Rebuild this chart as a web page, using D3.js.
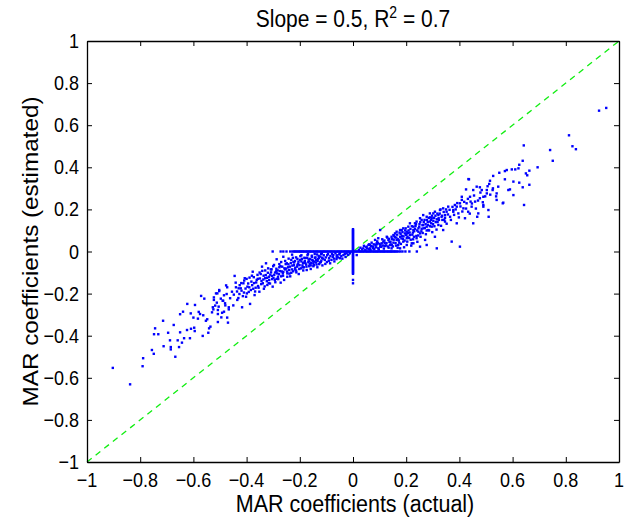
<!DOCTYPE html>
<html>
<head>
<meta charset="utf-8">
<script src="https://cdn.jsdelivr.net/npm/d3@7"></script>
<style>
    body { margin: 0; background: #fff; }
    svg { font-family: "Liberation Sans", Arial, sans-serif; }
</style>
</head>
<body>
<div id="main"></div>
<script>
const ctx = {
    WIDTH: 624,
    HEIGHT: 518,
    left: 87, right: 619, top: 41, bottom: 462,
    STRETCH: 1.13, // the figure was saved a little taller than wide
};

const xTicks = [-1, -0.8, -0.6, -0.4, -0.2, 0, 0.2, 0.4, 0.6, 0.8, 1];
const yTicks = [-1, -0.8, -0.6, -0.4, -0.2, 0, 0.2, 0.4, 0.6, 0.8, 1];

// [actual, estimated]
const leftTail = [
    [-0.903, -0.553], [-0.838, -0.631], [-0.791, -0.545], [-0.789, -0.507], [-0.756, -0.468],
    [-0.749, -0.486], [-0.748, -0.393], [-0.744, -0.365], [-0.732, -0.393], [-0.714, -0.329],
    [-0.712, -0.450], [-0.695, -0.386], [-0.688, -0.422], [-0.685, -0.454], [-0.685, -0.465],
    [-0.674, -0.349], [-0.668, -0.500], [-0.659, -0.422], [-0.654, -0.454], [-0.650, -0.384],
    [-0.650, -0.298], [-0.643, -0.433], [-0.639, -0.286], [-0.635, -0.412], [-0.623, -0.249],
    [-0.624, -0.373], [-0.613, -0.412], [-0.610, -0.294], [-0.609, -0.367], [-0.600, -0.314],
    [-0.597, -0.362], [-0.594, -0.254], [-0.595, -0.378], [-0.583, -0.319], [-0.580, -0.287],
    [-0.575, -0.297], [-0.571, -0.211], [-0.565, -0.401], [-0.563, -0.303], [-0.559, -0.224],
    [-0.553, -0.329], [-0.548, -0.322], [-0.544, -0.386], [-0.541, -0.365], [-0.536, -0.357],
    [-0.530, -0.289], [-0.525, -0.275], [-0.523, -0.218], [-0.518, -0.257], [-0.512, -0.243],
    [-0.510, -0.199], [-0.508, -0.297], [-0.508, -0.335], [-0.505, -0.262], [-0.503, -0.188],
    [-0.497, -0.224], [-0.492, -0.291], [-0.488, -0.234], [-0.485, -0.286], [-0.481, -0.246],
    [-0.477, -0.161], [-0.475, -0.202], [-0.473, -0.314], [-0.470, -0.338], [-0.467, -0.265]
];

const leftCluster = [
    [-0.527, -0.265], [-0.523, -0.230], [-0.515, -0.199], [-0.508, -0.278], [-0.503, -0.183],
    [-0.495, -0.313], [-0.490, -0.234], [-0.485, -0.208], [-0.480, -0.256], [-0.473, -0.170],
    [-0.467, -0.275], [-0.462, -0.222], [-0.455, -0.191], [-0.450, -0.256], [-0.445, -0.116],
    [-0.440, -0.170], [-0.435, -0.230], [-0.427, -0.202], [-0.422, -0.175], [-0.417, -0.265],
    [-0.412, -0.151], [-0.407, -0.127], [-0.402, -0.215], [-0.397, -0.167], [-0.392, -0.192],
    [-0.387, -0.249], [-0.382, -0.143], [-0.377, -0.096], [-0.375, -0.177], [-0.370, -0.207],
    [-0.362, -0.135], [-0.357, -0.164], [-0.352, -0.191], [-0.347, -0.107], [-0.342, -0.072],
    [-0.339, -0.151], [-0.335, -0.177], [-0.330, -0.127], [-0.327, -0.056], [-0.322, -0.159],
    [-0.320, -0.101], [-0.315, -0.135], [-0.309, -0.085], [-0.305, -0.116], [-0.302, -0.167],
    [-0.297, -0.064], [-0.294, -0.135], [-0.289, -0.094], [-0.287, -0.037], [-0.282, -0.120],
    [-0.277, -0.075], [-0.272, -0.148], [-0.270, -0.050], [-0.264, -0.104], [-0.262, -0.025],
    [-0.255, -0.085], [-0.249, -0.056], [-0.247, -0.120], [-0.242, -0.034], [-0.237, -0.072],
    [-0.232, -0.101], [-0.229, -0.015], [-0.224, -0.050], [-0.219, -0.085], [-0.214, -0.028],
    [-0.209, -0.063], [-0.204, -0.107], [-0.199, -0.040], [-0.194, -0.018], [-0.189, -0.075],
    [-0.184, -0.053], [-0.179, -0.031], [-0.174, -0.088], [-0.169, -0.012], [-0.164, -0.047],
    [-0.159, -0.066], [-0.154, -0.025], [-0.149, -0.056], [-0.144, -0.012], [-0.139, -0.040],
    [-0.134, -0.075], [-0.129, -0.021], [-0.121, -0.050], [-0.117, -0.009], [-0.112, -0.034],
    [-0.104, -0.059], [-0.097, -0.018], [-0.091, -0.044], [-0.086, -0.056], [-0.079, -0.012],
    [-0.071, -0.034], [-0.061, -0.018], [-0.049, -0.009], [-0.074, -0.017], [-0.061, -0.025],
    [-0.049, -0.032], [-0.036, -0.017], [-0.024, -0.009], [0.014, -0.017]
];

const leftDense = [
    [-0.448, -0.205], [-0.441, -0.148], [-0.436, -0.190], [-0.431, -0.221], [-0.426, -0.160],
    [-0.419, -0.186], [-0.414, -0.212], [-0.409, -0.138], [-0.404, -0.176], [-0.399, -0.199],
    [-0.394, -0.152], [-0.389, -0.124], [-0.384, -0.183], [-0.379, -0.160], [-0.373, -0.122],
    [-0.368, -0.190], [-0.364, -0.147], [-0.359, -0.111], [-0.355, -0.172], [-0.350, -0.128],
    [-0.345, -0.155], [-0.341, -0.092], [-0.337, -0.133], [-0.332, -0.166], [-0.328, -0.112],
    [-0.324, -0.141], [-0.319, -0.080], [-0.316, -0.120], [-0.312, -0.152], [-0.308, -0.099],
    [-0.304, -0.131], [-0.300, -0.070], [-0.296, -0.111], [-0.292, -0.146], [-0.288, -0.082],
    [-0.285, -0.104], [-0.281, -0.131], [-0.277, -0.060], [-0.274, -0.093], [-0.270, -0.118],
    [-0.266, -0.072], [-0.262, -0.097], [-0.259, -0.135], [-0.255, -0.045], [-0.251, -0.081],
    [-0.247, -0.104], [-0.243, -0.061], [-0.240, -0.088], [-0.236, -0.118], [-0.232, -0.040],
    [-0.228, -0.067], [-0.225, -0.094], [-0.221, -0.052], [-0.217, -0.077], [-0.213, -0.099],
    [-0.209, -0.035], [-0.206, -0.058], [-0.202, -0.083], [-0.198, -0.022], [-0.194, -0.047],
    [-0.190, -0.066], [-0.187, -0.090], [-0.183, -0.030], [-0.179, -0.055], [-0.175, -0.072],
    [-0.171, -0.017], [-0.167, -0.038], [-0.163, -0.060], [-0.159, -0.083], [-0.155, -0.020],
    [-0.151, -0.044], [-0.147, -0.065], [-0.143, -0.030], [-0.139, -0.052], [-0.135, -0.014],
    [-0.131, -0.036], [-0.127, -0.060], [-0.123, -0.024], [-0.119, -0.043], [-0.115, -0.066],
    [-0.110, -0.018], [-0.106, -0.040], [-0.102, -0.028], [-0.098, -0.050], [-0.094, -0.012],
    [-0.090, -0.032], [-0.085, -0.022], [-0.081, -0.040], [-0.076, -0.026], [-0.070, -0.047],
    [-0.066, -0.008], [-0.062, -0.036], [-0.056, -0.028], [-0.052, -0.014], [-0.044, -0.022],
    [-0.040, -0.034], [-0.031, -0.012], [-0.028, -0.026], [-0.018, -0.016], [-0.012, -0.008],
    [-0.430, -0.175], [-0.420, -0.150], [-0.410, -0.195], [-0.400, -0.130], [-0.390, -0.170],
    [-0.380, -0.115], [-0.372, -0.150], [-0.366, -0.172], [-0.358, -0.130], [-0.351, -0.100],
    [-0.344, -0.140], [-0.336, -0.115], [-0.330, -0.090], [-0.323, -0.125], [-0.317, -0.150],
    [-0.311, -0.110], [-0.306, -0.085], [-0.299, -0.125], [-0.293, -0.100], [-0.287, -0.130],
    [-0.283, -0.090], [-0.278, -0.108], [-0.273, -0.070], [-0.268, -0.095], [-0.263, -0.115],
    [-0.258, -0.080], [-0.253, -0.060], [-0.248, -0.095], [-0.244, -0.075], [-0.239, -0.105],
    [-0.234, -0.055], [-0.230, -0.085], [-0.226, -0.030], [-0.222, -0.065], [-0.218, -0.045],
    [-0.214, -0.090], [-0.210, -0.072], [-0.205, -0.048], [-0.201, -0.065], [-0.196, -0.080],
    [-0.192, -0.035], [-0.188, -0.055], [-0.185, -0.075], [-0.181, -0.045], [-0.176, -0.062],
    [-0.172, -0.030], [-0.168, -0.050], [-0.165, -0.070], [-0.161, -0.035], [-0.157, -0.055],
    [-0.153, -0.040], [-0.149, -0.070], [-0.145, -0.048], [-0.141, -0.028], [-0.137, -0.062],
    [-0.133, -0.045], [-0.128, -0.030], [-0.124, -0.052], [-0.120, -0.012], [-0.116, -0.030]
];

const rightCluster = [
    [0.064, 0.015], [0.076, 0.023], [0.089, 0.034], [0.095, 0.015], [0.061, 0.034],
    [0.039, 0.015], [0.051, 0.023], [0.064, 0.031], [0.076, 0.015], [0.089, 0.039],
    [0.102, 0.023], [0.114, 0.047], [0.120, 0.026], [0.133, 0.055], [0.139, 0.031],
    [0.145, 0.070], [0.152, 0.042], [0.158, 0.086], [0.164, 0.055], [0.170, 0.031],
    [0.177, 0.070], [0.183, 0.102], [0.189, 0.047], [0.195, 0.086], [0.202, 0.063],
    [0.208, 0.118], [0.214, 0.078], [0.221, 0.039], [0.227, 0.102], [0.233, 0.134],
    [0.239, 0.063], [0.246, 0.110], [0.252, 0.086], [0.258, 0.150], [0.264, 0.126],
    [0.271, 0.055], [0.277, 0.165], [0.283, 0.102], [0.289, 0.142], [0.296, 0.118],
    [0.302, 0.181], [0.308, 0.070], [0.315, 0.153], [0.321, 0.126], [0.327, 0.197],
    [0.333, 0.165], [0.339, 0.102], [0.346, 0.142], [0.352, 0.189], [0.358, 0.213],
    [0.365, 0.165], [0.371, 0.047], [0.377, 0.189], [0.383, 0.221], [0.390, 0.134],
    [0.396, 0.181], [0.402, 0.023], [0.409, 0.245], [0.415, 0.205], [0.421, 0.158],
    [0.427, 0.229], [0.433, 0.189], [0.440, 0.260], [0.446, 0.213], [0.452, 0.134],
    [0.459, 0.237], [0.465, 0.308], [0.471, 0.181], [0.477, 0.253], [0.484, 0.292],
    [0.490, 0.221], [0.503, 0.276], [0.509, 0.197], [0.083, 0.055], [0.095, 0.063],
    [0.108, 0.039], [0.127, 0.070], [0.152, 0.078], [0.164, 0.094], [0.177, 0.102],
    [0.189, 0.110], [0.202, 0.094], [0.214, 0.134], [0.227, 0.118], [0.239, 0.142],
    [0.252, 0.158], [0.264, 0.173], [0.277, 0.118], [0.289, 0.181], [0.296, 0.158],
    [0.308, 0.189], [0.321, 0.173], [0.339, 0.205], [0.346, 0.173], [0.202, 0.031],
    [0.227, 0.039], [0.252, 0.023], [0.277, 0.031], [0.315, 0.015], [0.177, 0.015],
    [0.145, 0.015], [0.102, 0.102], [0.434, 0.344]
];

const rightDense = [
    [0.022, 0.008], [0.028, 0.018], [0.034, 0.010], [0.041, 0.027], [0.046, 0.006],
    [0.053, 0.014], [0.058, 0.031], [0.066, 0.008], [0.070, 0.042], [0.074, 0.022],
    [0.080, 0.012], [0.085, 0.030], [0.091, 0.048], [0.097, 0.010], [0.100, 0.036],
    [0.106, 0.022], [0.110, 0.058], [0.116, 0.014], [0.119, 0.040], [0.124, 0.029],
    [0.129, 0.066], [0.134, 0.018], [0.137, 0.046], [0.142, 0.034], [0.147, 0.059],
    [0.150, 0.024], [0.155, 0.075], [0.160, 0.040], [0.163, 0.066], [0.168, 0.018],
    [0.172, 0.052], [0.175, 0.090], [0.180, 0.036], [0.184, 0.074], [0.188, 0.060],
    [0.192, 0.020], [0.196, 0.100], [0.199, 0.078], [0.204, 0.047], [0.207, 0.088],
    [0.211, 0.064], [0.216, 0.107], [0.219, 0.028], [0.223, 0.080], [0.226, 0.058],
    [0.230, 0.096], [0.235, 0.121], [0.238, 0.074], [0.242, 0.046], [0.246, 0.094],
    [0.250, 0.130], [0.254, 0.070], [0.258, 0.108], [0.262, 0.088], [0.266, 0.140],
    [0.270, 0.112], [0.274, 0.082], [0.278, 0.150], [0.282, 0.126], [0.286, 0.100],
    [0.290, 0.162], [0.294, 0.134], [0.298, 0.092], [0.302, 0.146], [0.306, 0.120],
    [0.310, 0.170], [0.314, 0.104], [0.318, 0.140], [0.322, 0.158], [0.326, 0.180],
    [0.331, 0.122], [0.336, 0.150], [0.341, 0.188], [0.346, 0.160], [0.352, 0.132],
    [0.357, 0.176], [0.363, 0.198], [0.368, 0.150], [0.374, 0.212], [0.380, 0.174],
    [0.386, 0.200], [0.392, 0.230], [0.398, 0.162], [0.404, 0.214], [0.411, 0.190],
    [0.418, 0.236], [0.425, 0.204], [0.432, 0.250], [0.439, 0.180], [0.447, 0.228],
    [0.455, 0.266], [0.462, 0.204], [0.470, 0.242], [0.479, 0.280], [0.488, 0.234],
    [0.497, 0.262], [0.506, 0.310], [0.516, 0.270], [0.526, 0.300], [0.538, 0.262],
    [0.050, 0.020], [0.060, 0.012], [0.068, 0.026], [0.078, 0.034], [0.087, 0.020],
    [0.093, 0.040], [0.103, 0.030], [0.112, 0.028], [0.118, 0.052], [0.126, 0.040],
    [0.131, 0.024], [0.136, 0.060], [0.141, 0.046], [0.146, 0.030], [0.153, 0.056],
    [0.157, 0.068], [0.162, 0.028], [0.166, 0.080], [0.170, 0.058], [0.174, 0.042],
    [0.179, 0.084], [0.182, 0.062], [0.186, 0.092], [0.190, 0.072], [0.194, 0.052],
    [0.198, 0.110], [0.201, 0.082], [0.205, 0.070], [0.209, 0.100], [0.213, 0.090],
    [0.217, 0.056], [0.221, 0.120], [0.225, 0.090], [0.229, 0.070], [0.233, 0.108],
    [0.237, 0.130], [0.241, 0.100], [0.245, 0.076], [0.249, 0.118], [0.253, 0.140],
    [0.257, 0.096], [0.261, 0.125], [0.265, 0.110], [0.269, 0.150], [0.273, 0.130],
    [0.277, 0.100], [0.281, 0.140], [0.285, 0.160], [0.289, 0.120], [0.293, 0.150],
    [0.297, 0.170], [0.301, 0.130], [0.305, 0.160], [0.311, 0.140], [0.317, 0.180],
    [0.323, 0.150], [0.329, 0.200], [0.335, 0.170], [0.343, 0.150], [0.350, 0.200]
];

const rightTail = [
    [0.952, 0.682], [0.925, 0.669], [0.812, 0.552], [0.825, 0.500], [0.838, 0.486],
    [0.751, 0.431], [0.741, 0.482], [0.642, 0.504], [0.638, 0.431], [0.694, 0.400],
    [0.663, 0.384], [0.655, 0.362], [0.650, 0.371], [0.625, 0.412], [0.622, 0.395],
    [0.610, 0.390], [0.597, 0.390], [0.578, 0.387], [0.571, 0.382], [0.550, 0.374],
    [0.527, 0.359], [0.571, 0.343], [0.603, 0.332], [0.625, 0.327], [0.663, 0.317],
    [0.638, 0.305], [0.643, 0.221], [0.603, 0.268], [0.590, 0.295], [0.584, 0.292],
    [0.565, 0.232], [0.546, 0.308], [0.540, 0.276], [0.515, 0.336], [0.512, 0.321],
    [0.525, 0.292], [0.503, 0.292], [0.490, 0.260], [0.477, 0.305], [0.467, 0.165],
    [0.436, 0.343], [0.425, 0.295], [0.452, 0.292], [0.442, 0.237], [0.409, 0.260],
    [0.402, 0.229], [0.390, 0.213], [0.377, 0.197], [0.510, 0.165], [0.540, 0.245],
    [0.563, 0.229], [0.490, 0.213]
];

// actual values whose estimate came out exactly zero
const zeroEstimateX = [
    -0.302, -0.272, -0.262, -0.250, -0.236, -0.228, -0.222, -0.218, -0.213, -0.209,
    -0.204, -0.200, -0.196, -0.191, -0.187, -0.183, -0.178, -0.174, -0.170, -0.165,
    -0.161, -0.157, -0.152, -0.148, -0.144, -0.139, -0.135, -0.131, -0.126, -0.122,
    -0.118, -0.113, -0.109, -0.105, -0.100, -0.096, -0.092, -0.087, -0.083, -0.079,
    -0.074, -0.070, -0.066, -0.061, -0.057, -0.053, -0.048, -0.044, -0.040, -0.035,
    -0.031, -0.027, -0.022, -0.018, -0.014, -0.009, -0.005, 0.004, 0.009, 0.013,
    0.017, 0.022, 0.026, 0.030, 0.035, 0.039, 0.043, 0.048, 0.052, 0.056,
    0.061, 0.065, 0.069, 0.074, 0.078, 0.082, 0.087, 0.091, 0.095, 0.100,
    0.104, 0.108, 0.113, 0.117, 0.121, 0.126, 0.130, 0.134, 0.139, 0.143,
    0.147, 0.152, 0.156, 0.160, 0.165, 0.171, 0.178, 0.186, 0.197, 0.212, 0.240
];

// estimates where the actual coefficient was zero
const zeroActualY = [
    -0.151, -0.135, -0.106, -0.101, -0.096, -0.091, -0.086, -0.081, -0.076, -0.071,
    -0.066, -0.061, -0.056, -0.051, -0.046, -0.041, -0.036, -0.031, -0.026, -0.021,
    -0.016, -0.011, -0.006, 0.000, 0.006, 0.011, 0.016, 0.021, 0.026, 0.031,
    0.036, 0.041, 0.046, 0.051, 0.056, 0.061, 0.066, 0.071, 0.076, 0.081,
    0.086, 0.091, 0.096, 0.101, 0.106
];

function createChart() {
    const svg = d3.select("#main").append("svg")
        .attr("width", ctx.WIDTH)
        .attr("height", ctx.HEIGHT);

    const x = d3.scaleLinear().domain([-1, 1]).range([ctx.left, ctx.right]);
    const y = d3.scaleLinear().domain([-1, 1]).range([ctx.bottom, ctx.top]);
    const fmt = d => d === 0 ? "0" : (d < 0 ? "\u2212" : "") + d3.format("~g")(Math.abs(d));
    const S = ctx.STRETCH;

    // green 1:1 line
    svg.append("line")
        .attr("x1", x(-1)).attr("y1", y(-1))
        .attr("x2", x(1)).attr("y2", y(1))
        .attr("stroke", "#11ee11")
        .attr("stroke-width", 1.3)
        .attr("stroke-dasharray", "6,5");

    const points = leftTail.concat(leftCluster, leftDense, rightCluster, rightDense, rightTail)
        .concat(zeroEstimateX.map(v => [v, 0]))
        .concat(zeroActualY.map(v => [0, v]));

    const m = 2.4;
    svg.append("g").selectAll("rect")
        .data(points)
        .enter().append("rect")
        .attr("x", d => x(d[0]) - m / 2)
        .attr("y", d => y(d[1]) - m / 2)
        .attr("width", m)
        .attr("height", m)
        .attr("fill", "#0000ff");

    // axes, MATLAB style: ticks inside on all four sides
    const axisB = svg.append("g").attr("transform", `translate(0,${ctx.bottom})`)
        .call(d3.axisBottom(x).tickValues(xTicks).tickSizeInner(-5).tickSizeOuter(0).tickFormat(""));
    const axisT = svg.append("g").attr("transform", `translate(0,${ctx.top})`)
        .call(d3.axisTop(x).tickValues(xTicks).tickSizeInner(-5).tickSizeOuter(0).tickFormat(""));
    const axisL = svg.append("g").attr("transform", `translate(${ctx.left},0)`)
        .call(d3.axisLeft(y).tickValues(yTicks).tickSizeInner(-5).tickSizeOuter(0).tickFormat(""));
    const axisR = svg.append("g").attr("transform", `translate(${ctx.right},0)`)
        .call(d3.axisRight(y).tickValues(yTicks).tickSizeInner(-5).tickSizeOuter(0).tickFormat(""));

    [axisB, axisT, axisL, axisR].forEach(a => {
        a.select(".domain").attr("stroke", "#000").attr("stroke-width", 1.3);
        a.selectAll(".tick line").attr("stroke", "#000").attr("stroke-width", 1);
    });

    // tick labels, drawn slightly taller than wide like the saved figure
    svg.append("g").selectAll("text")
        .data(xTicks)
        .enter().append("text")
        .attr("transform", d => `translate(${x(d)},${ctx.bottom + 25}) scale(1,${S})`)
        .attr("text-anchor", "middle")
        .style("font-size", "18px")
        .text(fmt);

    svg.append("g").selectAll("text")
        .data(yTicks)
        .enter().append("text")
        .attr("transform", d => `translate(${ctx.left - 8},${y(d) + 7}) scale(1,${S})`)
        .attr("text-anchor", "end")
        .style("font-size", "18px")
        .text(fmt);

    // title
    const title = svg.append("text")
        .attr("transform", `translate(353,27) scale(1,${S})`)
        .attr("text-anchor", "middle")
        .style("font-size", "21px");
    title.append("tspan").text("Slope = 0.5, R");
    title.append("tspan").attr("dy", -8).style("font-size", "14px").text("2");
    title.append("tspan").attr("dy", 8).text(" = 0.7");

    svg.append("text")
        .attr("transform", `translate(355,512) scale(1,${S})`)
        .attr("text-anchor", "middle")
        .style("font-size", "21.5px")
        .text("MAR coefficients (actual)");

    svg.append("text")
        .attr("transform", `translate(38,${(ctx.top + ctx.bottom) / 2}) scale(1,${S}) rotate(-90)`)
        .attr("text-anchor", "middle")
        .style("font-size", "21.5px")
        .text("MAR coefficients (estimated)");
}

createChart();
</script>
</body>
</html>
